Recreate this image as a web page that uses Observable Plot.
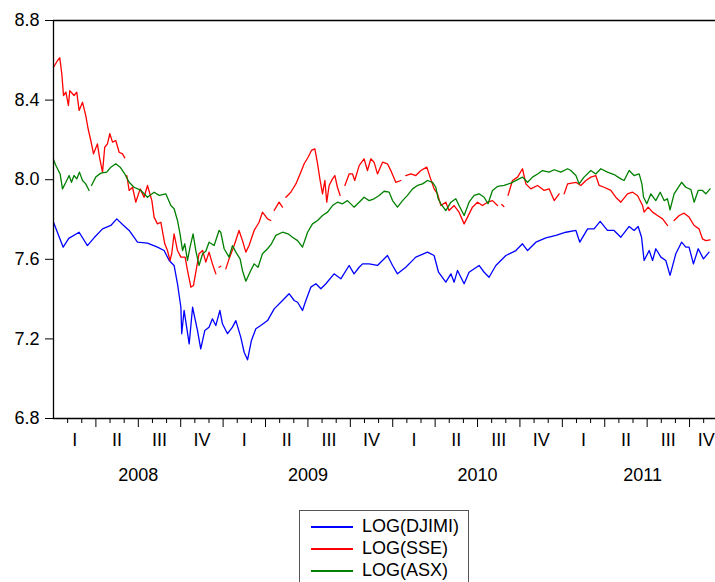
<!DOCTYPE html>
<html>
<head>
<meta charset="utf-8">
<script src="https://cdn.jsdelivr.net/npm/d3@7"></script>
<script src="https://cdn.jsdelivr.net/npm/@observablehq/plot@0.6"></script>
<style>
  html, body { margin: 0; padding: 0; background: #fff; overflow: hidden; }
  #wrap { position: relative; width: 715px; height: 582px; }
  #legend { position: absolute; left: 299px; top: 510px; width: 170px; height: 82px;
            border: 1px solid #555; background: #fff; box-sizing: border-box;
            font-family: Arial, "Liberation Sans", sans-serif; font-size: 18px; color: #000; }
  .row { position: absolute; left: 0; height: 22px; }
  .swatch { position: absolute; left: 11px; width: 42px; height: 0; border-top: 2px solid; }
  .lab { position: absolute; left: 62px; white-space: nowrap; line-height: 22px; }
</style>
</head>
<body>
<div id="wrap"><div id="chart"></div><div id="legend"></div></div>
<script>
// ---- tick labels ----
const years = [2008, 2009, 2010, 2011];
const quarterNames = ["I", "II", "III", "IV"];
const yTicks = [6.8, 7.2, 7.6, 8.0, 8.4, 8.8];

// ---- series (time in decimal years, value = log index; null = missing day) ----
const seriesNames = ["LOG(DJIMI)", "LOG(SSE)", "LOG(ASX)"];
const seriesColors = ["#0000ff", "#ff0000", "#008000"];

const djimi = [
[2008.000,7.786],[2008.057,7.661],[2008.090,7.705],[2008.151,7.736],[2008.200,7.669],[2008.239,7.708],
[2008.289,7.753],[2008.338,7.770],[2008.373,7.803],[2008.407,7.775],[2008.446,7.745],[2008.495,7.686],
[2008.554,7.681],[2008.613,7.661],[2008.652,7.644],[2008.682,7.594],[2008.711,7.569],[2008.731,7.477],
[2008.751,7.359],[2008.756,7.226],[2008.770,7.343],[2008.800,7.175],[2008.820,7.359],[2008.849,7.242],
[2008.868,7.150],[2008.892,7.242],[2008.917,7.259],[2008.937,7.301],[2008.957,7.267],[2008.981,7.343],
[2008.996,7.276],[2009.026,7.226],[2009.055,7.259],[2009.075,7.292],[2009.104,7.209],[2009.124,7.133],
[2009.144,7.095],[2009.167,7.192],[2009.193,7.251],[2009.222,7.267],[2009.262,7.292],[2009.301,7.351],
[2009.340,7.384],[2009.389,7.427],[2009.419,7.393],[2009.439,7.384],[2009.468,7.343],[2009.488,7.393],
[2009.517,7.460],[2009.547,7.477],[2009.576,7.452],[2009.606,7.477],[2009.654,7.527],[2009.694,7.502],
[2009.743,7.569],[2009.772,7.527],[2009.802,7.560],[2009.822,7.577],[2009.861,7.577],[2009.910,7.569],
[2009.969,7.619],[2009.999,7.569],[2010.028,7.527],[2010.077,7.560],[2010.136,7.611],[2010.205,7.636],
[2010.244,7.619],[2010.270,7.535],[2010.313,7.485],[2010.343,7.527],[2010.362,7.485],[2010.382,7.544],
[2010.421,7.477],[2010.450,7.535],[2010.509,7.569],[2010.539,7.535],[2010.568,7.510],[2010.608,7.569],
[2010.667,7.619],[2010.726,7.644],[2010.765,7.678],[2010.795,7.644],[2010.844,7.686],[2010.903,7.708],
[2010.962,7.720],[2011.021,7.736],[2011.080,7.745],[2011.103,7.686],[2011.149,7.753],[2011.187,7.753],
[2011.223,7.791],[2011.266,7.745],[2011.305,7.745],[2011.345,7.711],[2011.394,7.765],[2011.423,7.745],
[2011.447,7.765],[2011.467,7.711],[2011.482,7.594],[2011.512,7.644],[2011.532,7.594],[2011.551,7.653],
[2011.581,7.611],[2011.610,7.594],[2011.635,7.519],[2011.669,7.628],[2011.703,7.686],[2011.728,7.661],
[2011.747,7.661],[2011.773,7.577],[2011.801,7.653],[2011.832,7.602],[2011.865,7.636]
];

const sse = [
[2008.000,8.565],[2008.024,8.599],[2008.037,8.613],[2008.049,8.532],[2008.059,8.423],[2008.073,8.440],
[2008.088,8.373],[2008.096,8.448],[2008.121,8.423],[2008.137,8.440],[2008.151,8.348],[2008.171,8.389],
[2008.190,8.323],[2008.204,8.256],[2008.220,8.197],[2008.236,8.130],[2008.259,8.180],[2008.271,8.113],
[2008.289,8.038],[2008.302,8.163],[2008.318,8.180],[2008.332,8.231],[2008.348,8.189],[2008.367,8.197],
[2008.387,8.138],[2008.407,8.130],[2008.420,8.110],[2008.426,null],[2008.432,8.021],[2008.446,7.946],
[2008.466,7.962],[2008.485,7.887],[2008.511,7.954],[2008.534,7.912],[2008.554,7.971],[2008.580,7.895],
[2008.593,7.812],[2008.613,7.778],[2008.633,7.786],[2008.656,7.678],[2008.672,7.644],[2008.687,7.594],
[2008.697,7.628],[2008.711,7.728],[2008.731,7.644],[2008.751,7.611],[2008.776,7.611],[2008.790,7.544],
[2008.810,7.460],[2008.825,7.468],[2008.839,7.535],[2008.858,7.628],[2008.879,7.644],[2008.898,7.586],
[2008.917,7.636],[2008.937,7.577],[2008.957,7.527],[2008.967,null],[2008.976,7.560],[2008.986,7.565],
[2009.001,null],[2009.016,7.552],[2009.035,7.602],[2009.065,7.669],[2009.094,7.745],[2009.114,7.694],
[2009.134,7.636],[2009.153,7.669],[2009.183,7.745],[2009.212,7.786],[2009.232,7.837],[2009.262,7.803],
[2009.281,7.795],[2009.291,null],[2009.301,7.845],[2009.330,7.887],[2009.350,7.862],[2009.360,null],
[2009.370,7.912],[2009.399,7.937],[2009.429,7.979],[2009.458,8.038],[2009.478,8.080],[2009.501,8.113],
[2009.521,8.147],[2009.541,8.155],[2009.557,8.080],[2009.572,7.996],[2009.586,7.929],[2009.600,7.996],
[2009.611,7.887],[2009.625,7.971],[2009.645,8.004],[2009.659,8.021],[2009.674,7.962],[2009.690,7.921],
[2009.702,null],[2009.718,7.971],[2009.743,8.029],[2009.763,8.029],[2009.776,7.996],[2009.802,8.071],
[2009.831,8.105],[2009.851,8.046],[2009.871,8.105],[2009.890,8.088],[2009.910,8.029],[2009.940,8.088],
[2009.969,8.080],[2009.993,8.038],[2010.018,7.987],[2010.048,7.996],[2010.060,null],[2010.077,8.021],
[2010.107,8.029],[2010.136,8.021],[2010.166,8.046],[2010.201,8.063],[2010.220,8.013],[2010.244,7.954],
[2010.264,7.929],[2010.284,7.870],[2010.313,7.887],[2010.332,7.845],[2010.362,7.870],[2010.391,7.837],
[2010.421,7.778],[2010.441,7.812],[2010.470,7.862],[2010.500,7.887],[2010.529,7.870],[2010.559,7.887],
[2010.588,7.895],[2010.618,7.870],[2010.627,null],[2010.643,7.875],[2010.655,7.865],[2010.665,null],
[2010.680,7.921],[2010.706,7.996],[2010.736,8.013],[2010.765,8.055],[2010.785,7.979],[2010.814,7.954],
[2010.854,7.971],[2010.893,7.946],[2010.922,7.954],[2010.952,7.895],[2010.981,7.929],[2010.991,null],
[2011.011,7.929],[2011.031,7.979],[2011.080,7.987],[2011.109,7.971],[2011.139,7.996],[2011.168,8.013],
[2011.197,8.021],[2011.217,7.971],[2011.246,7.962],[2011.286,7.946],[2011.315,7.912],[2011.345,7.887],
[2011.384,7.929],[2011.414,7.937],[2011.443,7.921],[2011.473,7.870],[2011.482,7.837],[2011.506,7.862],
[2011.532,7.837],[2011.561,7.820],[2011.591,7.803],[2011.620,7.770],[2011.630,null],[2011.659,7.795],
[2011.689,7.820],[2011.718,7.832],[2011.747,7.812],[2011.777,7.770],[2011.806,7.753],[2011.826,7.703],
[2011.846,7.694],[2011.871,7.698]
];

const asx = [
[2008.000,8.100],[2008.014,8.071],[2008.039,8.029],[2008.053,7.954],[2008.073,7.987],[2008.092,8.021],
[2008.106,7.987],[2008.121,8.021],[2008.137,8.004],[2008.153,8.038],[2008.171,7.996],[2008.190,7.979],
[2008.210,7.946],[2008.217,null],[2008.224,7.971],[2008.249,8.013],[2008.279,8.033],[2008.314,8.038],
[2008.338,8.063],[2008.367,8.080],[2008.393,8.063],[2008.420,8.029],[2008.446,7.987],[2008.475,7.962],
[2008.515,7.946],[2008.554,7.912],[2008.593,7.937],[2008.623,7.921],[2008.662,7.929],[2008.692,7.870],
[2008.711,7.854],[2008.731,7.795],[2008.746,7.728],[2008.761,7.644],[2008.774,7.678],[2008.790,7.594],
[2008.805,7.661],[2008.823,7.728],[2008.839,7.644],[2008.858,7.569],[2008.879,7.628],[2008.898,7.640],
[2008.917,7.686],[2008.947,7.669],[2008.976,7.745],[2008.986,7.736],[2009.006,7.653],[2009.035,7.611],
[2009.055,7.669],[2009.075,7.636],[2009.100,7.602],[2009.114,7.544],[2009.134,7.490],[2009.163,7.544],
[2009.183,7.577],[2009.206,7.560],[2009.232,7.628],[2009.262,7.653],[2009.285,7.678],[2009.311,7.720],
[2009.350,7.736],[2009.383,7.728],[2009.409,7.711],[2009.439,7.694],[2009.468,7.661],[2009.498,7.736],
[2009.527,7.778],[2009.557,7.795],[2009.586,7.820],[2009.616,7.837],[2009.645,7.870],[2009.674,7.887],
[2009.704,7.879],[2009.733,7.895],[2009.772,7.862],[2009.802,7.887],[2009.831,7.912],[2009.861,7.895],
[2009.890,7.904],[2009.920,7.921],[2009.949,7.942],[2009.979,7.937],[2009.999,7.895],[2010.028,7.862],
[2010.058,7.895],[2010.087,7.921],[2010.117,7.954],[2010.146,7.971],[2010.176,7.979],[2010.205,7.996],
[2010.235,7.987],[2010.254,7.962],[2010.268,7.904],[2010.284,7.879],[2010.313,7.845],[2010.343,7.887],
[2010.372,7.904],[2010.391,7.870],[2010.421,7.820],[2010.450,7.887],[2010.480,7.921],[2010.509,7.929],
[2010.539,7.912],[2010.562,7.879],[2010.588,7.946],[2010.618,7.966],[2010.657,7.971],[2010.696,7.983],
[2010.736,8.000],[2010.765,8.013],[2010.795,7.987],[2010.824,8.013],[2010.854,8.029],[2010.883,8.046],
[2010.922,8.038],[2010.952,8.050],[2010.991,8.038],[2011.031,8.055],[2011.050,8.046],[2011.080,8.021],
[2011.099,7.979],[2011.128,8.013],[2011.168,8.046],[2011.197,8.029],[2011.227,8.055],[2011.266,8.038],
[2011.305,8.026],[2011.345,8.004],[2011.364,7.996],[2011.394,8.046],[2011.423,8.021],[2011.453,8.029],
[2011.469,7.979],[2011.479,7.912],[2011.498,7.879],[2011.522,7.929],[2011.551,7.895],[2011.577,7.937],
[2011.600,7.895],[2011.620,7.904],[2011.635,7.849],[2011.659,7.929],[2011.703,7.987],[2011.728,7.962],
[2011.758,7.950],[2011.777,7.887],[2011.801,7.946],[2011.826,7.946],[2011.846,7.929],[2011.871,7.954]
];

const seriesData = [djimi, sse, asx];

// ---- axis construction ----
const xStart = 2008, xVisibleEnd = 2011.903, axisEnd = 2011.946;
const majorTicks = years.flatMap(y => [0, 1, 2, 3].map(q => y + q / 4)).filter(t => t > xStart && t <= xVisibleEnd);
const minorTicks = years.flatMap(y => d3.range(12).filter(m => m % 3 !== 0).map(m => y + m / 12)).filter(t => t <= xVisibleEnd);
const quarterLabels = years.flatMap(y => quarterNames.map((r, q) => {
  const s = y + q / 4, e = Math.min(s + 0.25, axisEnd);
  return {t: (s + e) / 2, label: r};
}));
const yearLabels = years.map(y => ({t: (y + Math.min(y + 1, axisEnd)) / 2, label: String(y)}));

const font = 'Arial, "Liberation Sans", sans-serif';

const chart = Plot.plot({
  width: 715,
  height: 500,
  marginTop: 20,
  marginLeft: 53,
  marginRight: 0,
  marginBottom: 82,
  style: {fontFamily: font, fontSize: "18px", background: "#fff", color: "#000"},
  x: {type: "linear", domain: [xStart, xVisibleEnd]},
  y: {domain: [6.8, 8.8]},
  marks: [
    Plot.axisY(yTicks, {tickSize: 8, tickPadding: 6, tickFormat: d3.format(".1f"), label: null, fontSize: 18, stroke: "#000"}),
    Plot.axisX(majorTicks, {tickSize: 9, tickFormat: () => "", label: null, stroke: "#000"}),
    Plot.axisX(minorTicks, {tickSize: 5, tickFormat: () => "", label: null, stroke: "#000"}),
    Plot.text(quarterLabels, {x: "t", y: 6.8, text: "label", dy: 22, fontSize: 18, fill: "#000"}),
    Plot.text(yearLabels, {x: "t", y: 6.8, text: "label", dy: 57, fontSize: 18, fill: "#000"}),
    ...seriesData.map((s, i) => Plot.line(s, {x: d => d[0], y: d => d[1], stroke: seriesColors[i], strokeWidth: 1.3})),
    Plot.ruleY([6.8, 8.8], {stroke: "#000", strokeWidth: 1.3}),
    Plot.ruleX([xStart], {stroke: "#000", strokeWidth: 1.3})
  ]
});
document.getElementById("chart").appendChild(chart);

// ---- legend ----
const legend = document.getElementById("legend");
seriesNames.forEach((name, i) => {
  const row = document.createElement("div");
  row.className = "row";
  row.style.top = (4 + i * 22) + "px";
  row.innerHTML = `<div class="swatch" style="top:11px;border-color:${seriesColors[i]}"></div><div class="lab">${name}</div>`;
  legend.appendChild(row);
});
</script>
</body>
</html>
